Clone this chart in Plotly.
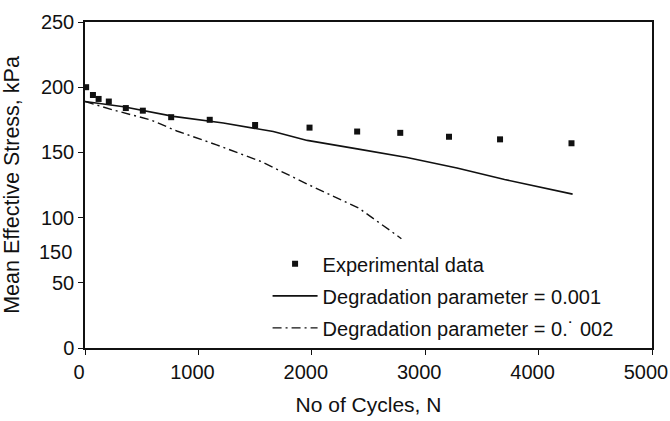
import plotly.graph_objects as go

# Experimental data
exp_cycles = [10, 70, 120, 210, 360, 510, 760, 1100, 1500, 1980, 2400, 2780, 3210, 3660, 4290]
exp_stress = [200, 194, 191, 189, 184, 182, 177, 175, 171, 169, 166, 165, 162, 160, 157]

# Degradation parameter = 0.001
d1_cycles = [0, 340, 780, 1220, 1660, 1960, 2400, 2840, 3280, 3700, 4300]
d1_stress = [189, 185, 177.6, 172.6, 166, 159.2, 152.7, 146.1, 138, 129.2, 118]

# Degradation parameter = 0.002
d2_cycles = [0, 250, 580, 810, 1160, 1550, 1975, 2415, 2710, 2790]
d2_stress = [189, 182.5, 174.9, 166.4, 155.8, 143.1, 125.1, 107.2, 88.9, 83.8]

x_ticks = [0, 1000, 2000, 3000, 4000, 5000]
y_ticks = [0, 50, 100, 150, 200, 250]

FONT = "Liberation Sans, Arial, sans-serif"
INK = "#111111"

fig = go.Figure()
fig.add_trace(go.Scatter(
    x=exp_cycles, y=exp_stress, mode="markers", name="Experimental data",
    marker=dict(symbol="square", size=6, color=INK), legendgroup="a"))
fig.add_trace(go.Scatter(
    x=d1_cycles, y=d1_stress, mode="lines", name="Degradation parameter = 0.001",
    line=dict(color=INK, width=1.6), legendgroup="b"))
fig.add_trace(go.Scatter(
    x=d2_cycles, y=d2_stress, mode="lines", name="Degradation parameter = 0.˙ 002",
    line=dict(color=INK, width=1.4, dash="9px,4px,2px,4px"), legendgroup="c"))

axis_common = dict(
    showline=True, linecolor=INK, linewidth=1.5, mirror=True,
    ticks="outside", ticklen=5, tickwidth=1.2, tickcolor=INK,
    showgrid=False, zeroline=False, automargin=False,
    ticklabeloverflow="allow",
    tickfont=dict(family=FONT, size=20, color=INK),
)

fig.update_layout(
    width=670, height=421,
    margin=dict(l=85, r=18, t=22, b=73, autoexpand=False),
    paper_bgcolor="white", plot_bgcolor="white",
    font=dict(family=FONT, size=20, color=INK),
    xaxis=dict(range=[0, 5000], tickvals=x_ticks, ticklabelshift=-6,
               title=dict(text="No of Cycles, N", font=dict(family=FONT, size=21, color=INK), standoff=16),
               **axis_common),
    yaxis=dict(range=[0, 250], tickvals=y_ticks,
               title=dict(text="Mean Effective Stress, kPa", font=dict(family=FONT, size=21.5, color=INK), standoff=20),
               **axis_common),
    legend=dict(x=0.322, y=0.318, xanchor="left", yanchor="top",
                bgcolor="rgba(0,0,0,0)", font=dict(family=FONT, size=20, color=INK),
                traceorder="grouped", tracegroupgap=3, itemwidth=45),
    showlegend=True,
)

fig.add_annotation(text="150", xref="paper", yref="paper", x=-0.052, y=0.2935,
                   showarrow=False, xanchor="center", yanchor="middle",
                   font=dict(family=FONT, size=20, color=INK))

fig.write_html("out.html", config={"displayModeBar": False},
               post_script="document.body.style.margin='0';document.body.style.overflow='hidden';")
